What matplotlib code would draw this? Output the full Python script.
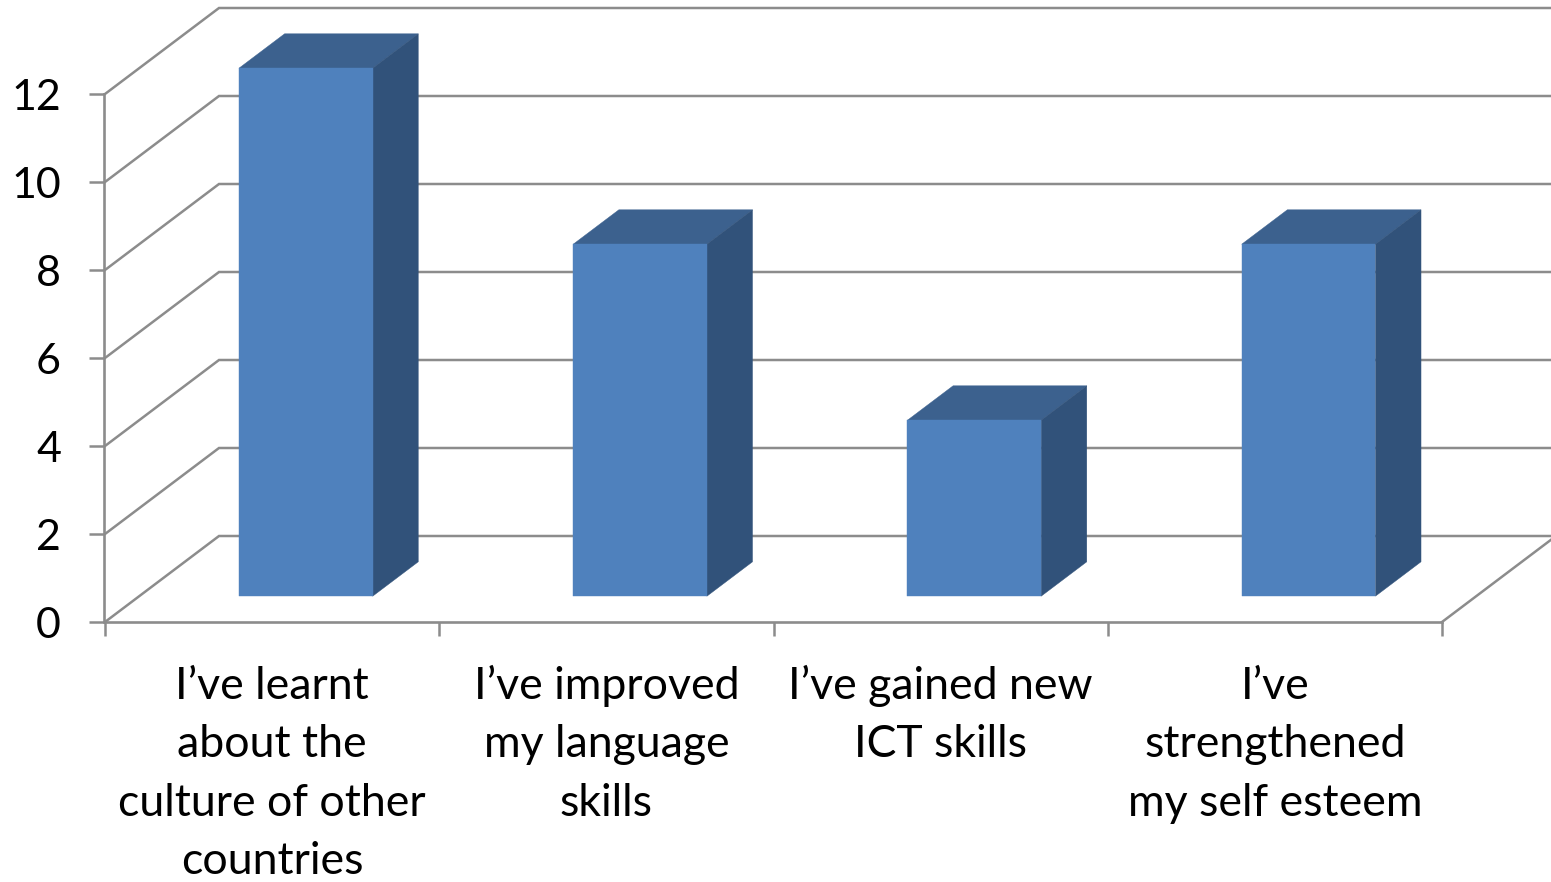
import matplotlib
matplotlib.use("Agg")
import matplotlib.pyplot as plt
from matplotlib.patches import Polygon

categories = ["I\u2019ve learnt\nabout the\nculture of other\ncountries",
              "I\u2019ve improved\nmy language\nskills",
              "I\u2019ve gained new\nICT skills",
              "I\u2019ve\nstrengthened\nmy self esteem"]
values = [12, 8, 4, 8]
y_ticks = [0, 2, 4, 6, 8, 10, 12]

W, H = 1551, 882
GREY = "#8c8c8c"
FRONT, TOP, SIDE = "#4f81bd", "#3c618e", "#31527a"
FONT = "Lato"
FS = 32.1

fig = plt.figure(figsize=(W / 100, H / 100), dpi=100, facecolor="white")
ax = fig.add_axes([105 / W, 1 - 622 / H, 1337 / W, 528 / H])
ax.set_xlim(0, len(values))
ax.set_ylim(0, 12)

# depth vector of the 3-D box, in data units
DX = 114 / (1337 / len(values))
DY = 86 / 44
BAR_W = 0.40
D0, D1 = 0.30, 0.70


def pt(x, y, d):
    return (x + DX * d, y + DY * d)


# walls
for v in y_ticks:
    xs, ys = zip(pt(0, v, 0), pt(0, v, 1), pt(len(values), v, 1))
    ax.plot(xs, ys, color=GREY, lw=1.8, clip_on=False, zorder=1, solid_joinstyle="miter")
xs, ys = zip(pt(len(values), 0, 0), pt(len(values), 0, 1))
ax.plot(xs, ys, color=GREY, lw=1.8, clip_on=False, zorder=1)

# bars
for i, v in enumerate(values):
    x0 = i + 0.4985 - BAR_W / 2
    x1 = x0 + BAR_W
    front = [pt(x0, 0, D0), pt(x1, 0, D0), pt(x1, v, D0), pt(x0, v, D0)]
    top = [pt(x0, v, D0), pt(x1, v, D0), pt(x1, v, D1), pt(x0, v, D1)]
    side = [pt(x1, 0, D0), pt(x1, 0, D1), pt(x1, v, D1), pt(x1, v, D0)]
    for poly, col in ((top, TOP), (side, SIDE), (front, FRONT)):
        ax.add_patch(Polygon(poly, closed=True, facecolor=col, edgecolor=col, lw=0.3,
                             clip_on=False, zorder=3))

for s in ("top", "right"):
    ax.spines[s].set_visible(False)
for s in ("left", "bottom"):
    ax.spines[s].set_color(GREY)
    ax.spines[s].set_linewidth(1.9)
ax.spines["left"].set_position(("outward", 1))

ax.set_yticks(y_ticks)
ax.set_yticklabels([str(v) for v in y_ticks], fontsize=31, family=FONT, color="black")
ax.tick_params(axis="y", length=10.5, width=1.8, color=GREY, pad=20.2)

ax.set_xticks(range(len(values) + 1))
ax.set_xticklabels([])
ax.tick_params(axis="x", which="major", length=10, width=1.8, color=GREY)

# category labels, one baseline per line so every column lines up
for i, cat in enumerate(categories):
    for j, line in enumerate(cat.split("\n")):
        ax.annotate(line, (i + 0.5, 0), xytext=(0, -(77 + 58.3 * j) * 0.72),
                    textcoords="offset points", ha="center", va="baseline",
                    fontsize=FS, family=FONT, color="black", annotation_clip=False)

fig.savefig("out.png", dpi=100, facecolor="white")
